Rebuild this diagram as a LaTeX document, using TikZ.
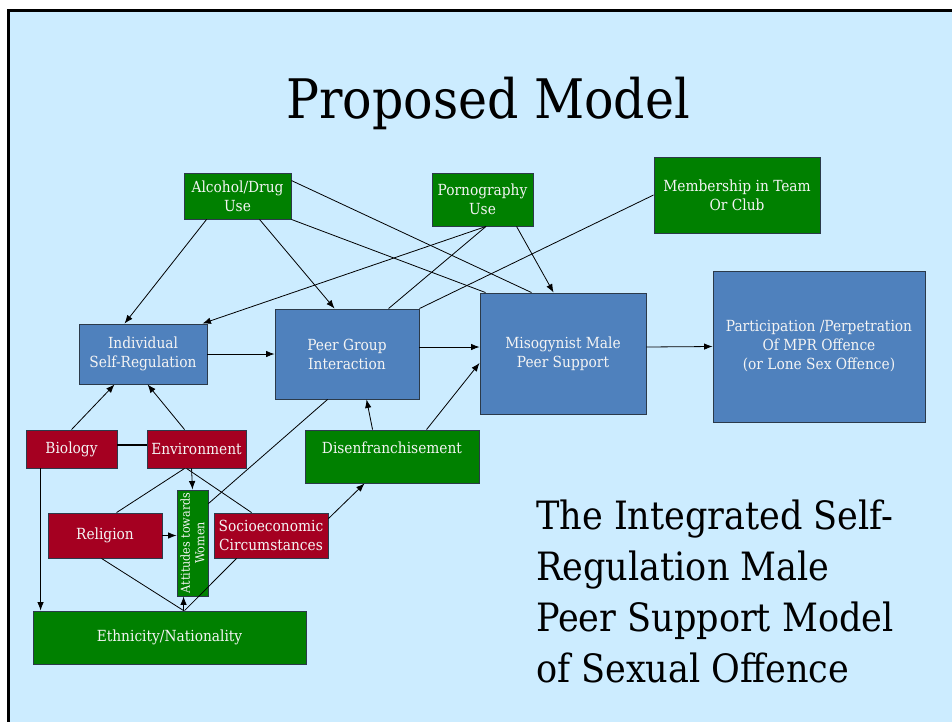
\documentclass[tikz,border=0pt]{standalone}
\usepackage{fontspec}
\setmainfont{DejaVu Serif Condensed}
\usetikzlibrary{arrows.meta,calc}
\definecolor{bgblue}{HTML}{CCECFF}
\definecolor{boxgreen}{HTML}{008000}
\definecolor{boxred}{HTML}{A50021}
\definecolor{boxblue}{HTML}{4F81BD}
\definecolor{boxedge}{HTML}{2B3A4A}
\definecolor{txtw}{HTML}{F4F4F4}
\tikzset{
  box/.style={draw=boxedge, line width=0.9pt, text=txtw, align=center, inner sep=0pt,
    font=\fontsize{15.3}{19}\selectfont},
  gbox/.style={box, fill=boxgreen},
  rbox/.style={box, fill=boxred},
  bbox/.style={box, fill=boxblue},
  conn/.style={draw=black, line width=0.8pt},
  arr/.style={conn, -{Latex[length=8.5pt,width=6.5pt]}},
}
\begin{document}
\begin{tikzpicture}[x=1pt,y=-1pt]
\useasboundingbox (0,0) rectangle (952,721);
\fill[white] (0,0) rectangle (952,721);
\draw[fill=bgblue, line width=3pt, draw=black] (8,10) rectangle (970,740);
% title
\node[font=\fontsize{54.5}{60}\selectfont, anchor=base] (title) at (488,118) {Proposed Model};
% subtitle
\node[font=\fontsize{39}{51}\selectfont, align=left, anchor=north west, inner sep=0pt] (sub) at (536,500)
  {The Integrated Self-\\Regulation Male\\Peer Support Model\\of Sexual Offence};
% boxes
\node[gbox, minimum width=107, minimum height=46] (alc) at (237.5,196) {Alcohol/Drug\\Use};
\node[gbox, minimum width=101, minimum height=53] (porn) at (482.5,199.5) {Pornography\\Use};
\node[gbox, minimum width=166, minimum height=76] (memb) at (737,195) {Membership in Team\\Or Club};
\node[bbox, minimum width=128, minimum height=60] (isr) at (143,354) {Individual\\Self-Regulation};
\node[bbox, minimum width=144, minimum height=90] (pgi) at (347,354) {Peer Group\\Interaction};
\node[bbox, minimum width=166, minimum height=121] (mis) at (563,353.5) {Misogynist Male\\Peer Support};
\node[bbox, minimum width=212, minimum height=151] (part) at (819,346.5) {Participation /Perpetration\\Of MPR Offence\\(or Lone Sex Offence)};
\node[rbox, minimum width=91, minimum height=38] (bio) at (71.5,449) {Biology};
\node[rbox, minimum width=99, minimum height=38] (env) at (196.5,449) {Environment};
\node[gbox, minimum width=174, minimum height=53] (dis) at (392,456.5) {};
\node[text=txtw, font=\fontsize{15.3}{19}\selectfont, inner sep=0pt] (distxt) at (392,448) {Disenfranchisement};
\node[gbox, minimum width=31, minimum height=106] (att) at (192.5,543) {};
\node[text=txtw, font=\fontsize{12.4}{14.5}\selectfont, inner sep=0pt, align=center, rotate=90] (atttxt) at (192.5,543) {Attitudes towards\\Women};
\node[rbox, minimum width=114, minimum height=45] (rel) at (105,535.5) {Religion};
\node[rbox, minimum width=114, minimum height=45] (soc) at (271,535.5) {Socioeconomic\\Circumstances};
\node[gbox, minimum width=273, minimum height=53] (eth) at (169.5,637.5) {Ethnicity/Nationality};
% connectors
\draw[arr] ([xshift=23pt]alc.south west) -- ([xshift=46pt]isr.north west);
\draw[arr] ([xshift=76pt]alc.south west) -- ([xshift=60pt]pgi.north west);
\draw[conn] ([yshift=-8pt]alc.north east) -- ([xshift=52pt]mis.north west);
\draw[conn] (alc.south east) -- ([xshift=6pt]mis.north west);
\draw[arr] ([xshift=3.5pt]porn.south) -- ([xshift=-5pt]isr.north east);
\draw[conn] ([xshift=3.5pt]porn.south) -- ([xshift=114pt]pgi.north west);
\draw[arr] ([xshift=85pt]porn.south west) -- ([xshift=74pt]mis.north west);
\draw[conn] (memb.west) -- (pgi.north east);
\draw[arr] (isr.east) -- (pgi.west);
\draw[arr] ([yshift=7pt]pgi.east) -- ([yshift=6.5pt]mis.west);
\draw[arr] ([yshift=6.5pt]mis.east) -- (part.west);
\draw[arr] ([xshift=122pt]dis.north west) -- ([yshift=-9.5pt]mis.west);
\draw[arr] ([xshift=68pt]dis.north west) -- ([xshift=92pt]pgi.south west);
\draw[arr] ([xshift=46pt]bio.north west) -- ([xshift=36pt]isr.south west);
\draw[arr] ([xshift=38pt]env.north west) -- ([xshift=69pt]isr.south west);
\draw[conn, line width=2pt] ([yshift=4pt]bio.east) -- ([yshift=4pt]env.west);
\draw[arr] ([xshift=15pt]bio.south west) -- ([xshift=8pt]eth.north west);
\draw[arr] ([xshift=45pt]env.south west) -- (att.north);
\draw[conn] ([xshift=38pt]env.south west) -- ([xshift=69pt]rel.north west);
\draw[conn] ([xshift=40pt]env.south west) -- ([xshift=38pt]soc.north west);
\draw[arr] (rel.east) -- (rel.east -| att.west);
\draw[conn] ([xshift=54pt]rel.south west) -- ([xshift=151pt]eth.north west);
\draw[conn] ([xshift=23pt]soc.south west) -- ([xshift=152pt]eth.north west);
\draw[arr] ([xshift=151pt]eth.north west) -- ([xshift=7pt]att.south west);
\draw[conn] ([yshift=-14pt]att.north east) -- ([xshift=53pt]pgi.south west);
\draw[arr] ([yshift=-6pt]soc.north east) -- ([xshift=60pt]dis.south west);
\end{tikzpicture}
\end{document}
